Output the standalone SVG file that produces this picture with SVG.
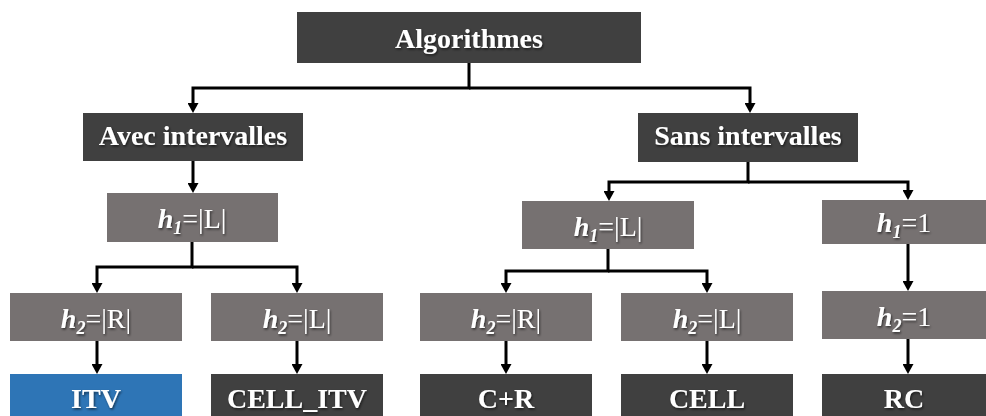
<svg xmlns="http://www.w3.org/2000/svg" width="986" height="416" viewBox="0 0 986 416">
<defs>
<marker id="ah" markerUnits="userSpaceOnUse" markerWidth="11" markerHeight="11" refX="2" refY="5.5" orient="auto">
<path d="M0,0 L10,5.5 L0,11 z" fill="#000"/>
</marker>
<filter id="sh" x="-20%" y="-30%" width="140%" height="160%">
<feDropShadow dx="1" dy="1.5" stdDeviation="1" flood-color="#000" flood-opacity="0.6"/>
</filter>
</defs>
<style>
.dark{fill:#404040}
.gray{fill:#767171}
.blue{fill:#2E75B6}
.t{font-family:"Liberation Serif","Times New Roman",serif;font-size:28px;fill:#fff;text-anchor:middle;filter:url(#sh)}
.b{font-weight:bold}
.hi{font-weight:bold;font-style:italic}
.sub{font-weight:bold;font-style:italic;font-size:18px}
.c{fill:none;stroke:#000;stroke-width:3}
</style>
<rect width="986" height="416" fill="#fff"/>
<g id="connectors">
<path class="c" d="M469,63 V88 H193 V105" marker-end="url(#ah)"/>
<path class="c" d="M469,88 H750 V105" marker-end="url(#ah)"/>
<path class="c" d="M193,161 V185" marker-end="url(#ah)"/>
<path class="c" d="M748,162 V182 H609 V193" marker-end="url(#ah)"/>
<path class="c" d="M748,182 H908 V192" marker-end="url(#ah)"/>
<path class="c" d="M192,242 V267 H97 V285" marker-end="url(#ah)"/>
<path class="c" d="M192,267 H297 V285" marker-end="url(#ah)"/>
<path class="c" d="M608,249 V271 H506 V285" marker-end="url(#ah)"/>
<path class="c" d="M608,271 H707 V285" marker-end="url(#ah)"/>
<path class="c" d="M908,244 V283" marker-end="url(#ah)"/>
<path class="c" d="M97,341 V366" marker-end="url(#ah)"/>
<path class="c" d="M297,341 V366" marker-end="url(#ah)"/>
<path class="c" d="M506,341 V366" marker-end="url(#ah)"/>
<path class="c" d="M707,341 V366" marker-end="url(#ah)"/>
<path class="c" d="M908,339 V366" marker-end="url(#ah)"/>
</g>
<g id="n-algorithmes">
<rect class="dark" x="297" y="12" width="344" height="51"/>
<text class="t b" x="469" y="48">Algorithmes</text>
</g>
<g id="n-avec">
<rect class="dark" x="83" y="113" width="220" height="48"/>
<text class="t b" x="193" y="145">Avec intervalles</text>
</g>
<g id="n-sans">
<rect class="dark" x="638" y="113" width="220" height="49"/>
<text class="t b" x="748" y="145">Sans intervalles</text>
</g>
<g id="n-h1-L-left">
<rect class="gray" x="107" y="193" width="171" height="49"/>
<text class="t" x="192" y="228"><tspan class="hi">h</tspan><tspan class="sub" dy="6">1</tspan><tspan dy="-6">=|L|</tspan></text>
</g>
<g id="n-h1-L-right">
<rect class="gray" x="522" y="201" width="172" height="48"/>
<text class="t" x="608" y="236"><tspan class="hi">h</tspan><tspan class="sub" dy="6">1</tspan><tspan dy="-6">=|L|</tspan></text>
</g>
<g id="n-h1-1">
<rect class="gray" x="822" y="200" width="164" height="44"/>
<text class="t" x="904" y="232"><tspan class="hi">h</tspan><tspan class="sub" dy="6">1</tspan><tspan dy="-6">=1</tspan></text>
</g>
<g id="n-h2-R-left">
<rect class="gray" x="10" y="293" width="172" height="48"/>
<text class="t" x="96" y="328"><tspan class="hi">h</tspan><tspan class="sub" dy="6">2</tspan><tspan dy="-6">=|R|</tspan></text>
</g>
<g id="n-h2-L-left">
<rect class="gray" x="211" y="293" width="172" height="48"/>
<text class="t" x="297" y="328"><tspan class="hi">h</tspan><tspan class="sub" dy="6">2</tspan><tspan dy="-6">=|L|</tspan></text>
</g>
<g id="n-h2-R-right">
<rect class="gray" x="420" y="293" width="172" height="48"/>
<text class="t" x="506" y="328"><tspan class="hi">h</tspan><tspan class="sub" dy="6">2</tspan><tspan dy="-6">=|R|</tspan></text>
</g>
<g id="n-h2-L-right">
<rect class="gray" x="621" y="293" width="172" height="48"/>
<text class="t" x="707" y="328"><tspan class="hi">h</tspan><tspan class="sub" dy="6">2</tspan><tspan dy="-6">=|L|</tspan></text>
</g>
<g id="n-h2-1">
<rect class="gray" x="822" y="291" width="164" height="48"/>
<text class="t" x="904" y="326"><tspan class="hi">h</tspan><tspan class="sub" dy="6">2</tspan><tspan dy="-6">=1</tspan></text>
</g>
<g id="n-itv">
<rect class="blue" x="10" y="374" width="172" height="48"/>
<text class="t b" x="96" y="408">ITV</text>
</g>
<g id="n-cell-itv">
<rect class="dark" x="211" y="374" width="172" height="48"/>
<text class="t b" x="297" y="408">CELL_ITV</text>
</g>
<g id="n-cr">
<rect class="dark" x="420" y="374" width="172" height="48"/>
<text class="t b" x="506" y="408">C+R</text>
</g>
<g id="n-cell">
<rect class="dark" x="621" y="374" width="172" height="48"/>
<text class="t b" x="707" y="408">CELL</text>
</g>
<g id="n-rc">
<rect class="dark" x="822" y="374" width="164" height="48"/>
<text class="t b" x="904" y="408">RC</text>
</g>
</svg>
